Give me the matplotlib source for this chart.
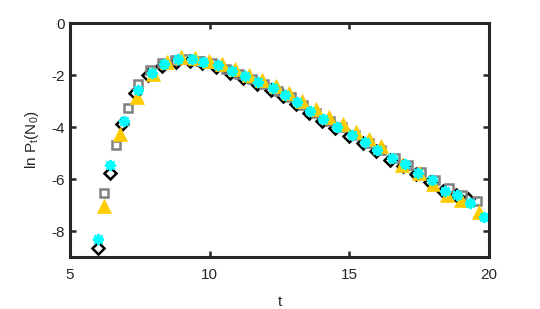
import matplotlib
matplotlib.use("Agg")
import matplotlib.pyplot as plt

plt.rcParams['font.family'] = ['Liberation Sans', 'DejaVu Sans']
plt.rcParams['axes.unicode_minus'] = False

# black diamonds
t_dia = [5.99, 6.43, 6.87, 7.34, 7.8, 8.3, 8.78, 9.28, 9.74, 10.24, 10.72, 11.2, 11.68,
         12.18, 12.64, 13.08, 13.55, 14.02, 14.5, 15.0, 15.5, 15.95, 16.45, 16.92, 17.4,
         17.88, 18.35, 18.82, 19.25]
y_dia = [-8.67, -5.78, -3.9, -2.7, -2.0, -1.65, -1.48, -1.47, -1.55, -1.7, -1.92, -2.12, -2.33,
         -2.58, -2.82, -3.1, -3.45, -3.75, -4.05, -4.35, -4.62, -4.92, -5.28, -5.5, -5.82,
         -6.12, -6.48, -6.62, -6.75]

# gray squares
t_sq = [6.22, 6.65, 7.06, 7.45, 7.85, 8.3, 8.75, 9.2, 9.65, 10.1, 10.6, 11.05, 11.5, 11.95,
        12.45, 12.9, 13.35, 13.8, 14.3, 14.75, 15.2, 15.7, 16.15, 16.65, 17.1, 17.55, 18.05,
        18.55, 19.05, 19.56]
y_sq = [-6.54, -4.69, -3.28, -2.35, -1.82, -1.55, -1.42, -1.38, -1.45, -1.55, -1.75, -1.95,
        -2.15, -2.35, -2.6, -2.85, -3.15, -3.45, -3.75, -4.0, -4.3, -4.6, -4.9, -5.2, -5.45,
        -5.72, -6.05, -6.35, -6.6, -6.85]

# yellow triangles
t_tri = [6.22, 6.79, 7.39, 7.98, 8.46, 8.98, 9.47, 9.96, 10.44, 10.92, 11.4, 11.88, 12.36,
         12.84, 13.32, 13.8, 14.28, 14.76, 15.24, 15.7, 16.15, 16.87, 17.51, 17.98, 18.48,
         18.99, 19.65]
y_tri = [-7.04, -4.27, -2.83, -1.94, -1.5, -1.3, -1.35, -1.45, -1.58, -1.78, -2.0, -2.2, -2.42,
         -2.7, -2.98, -3.3, -3.6, -3.9, -4.2, -4.45, -4.72, -5.46, -5.78, -6.2, -6.6,
         -6.8, -7.26]

# cyan asterisks
t_cy = [5.99, 6.43, 6.95, 7.42, 7.92, 8.38, 8.85, 9.36, 9.77, 10.31, 10.79, 11.27, 11.74,
        12.25, 12.70, 13.12, 13.59, 14.07, 14.55, 15.08, 15.56, 15.98, 16.52, 17.0, 17.47,
        17.95, 18.43, 18.87, 19.32, 19.82]
y_cy = [-8.3, -5.45, -3.77, -2.58, -1.93, -1.58, -1.4, -1.4, -1.48, -1.62, -1.85, -2.05, -2.27,
        -2.5, -2.77, -3.05, -3.38, -3.7, -3.98, -4.3, -4.56, -4.88, -5.2, -5.42, -5.78,
        -6.04, -6.45, -6.62, -6.94, -7.47]

x_ticks = [5, 10, 15, 20]
y_ticks = [-8, -6, -4, -2, 0]

fig = plt.figure(figsize=(5.4, 3.09), dpi=100)
ax = fig.add_axes([0.1296, 0.1683, 0.776, 0.757])

ax.plot(t_dia, y_dia, linestyle='none', marker='D', ms=6, mfc='none', mec='black', mew=1.8)
ax.plot(t_sq, y_sq, linestyle='none', marker='s', ms=5.5, mfc='none', mec=(0.5, 0.5, 0.5), mew=1.8)
ax.plot(t_tri, y_tri, linestyle='none', marker='^', ms=10.5, mfc='#FFCC00', mec='#FFCC00', mew=0.5)
ax.plot(t_cy, y_cy, linestyle='none', marker=(8, 2, 0), ms=8, mec='cyan', mew=1.8)

ax.set_xlim(5, 20)
ax.set_ylim(-9, 0)
ax.set_xticks(x_ticks)
ax.set_yticks(y_ticks)
ax.tick_params(direction='in', length=4, width=1.8, top=True, right=True,
               labelsize=11, colors='#262626')
ax.tick_params(axis='x', pad=8)
for s in ax.spines.values():
    s.set_linewidth(2.2)
    s.set_color('#262626')

ax.set_xlabel('t', fontsize=11, color='#262626', labelpad=9)
ax.set_ylabel(r'ln P$_\mathregular{t}$(N$_\mathregular{0}$)', fontsize=11, color='#262626', labelpad=8)

fig.savefig('out.png', dpi=100)
